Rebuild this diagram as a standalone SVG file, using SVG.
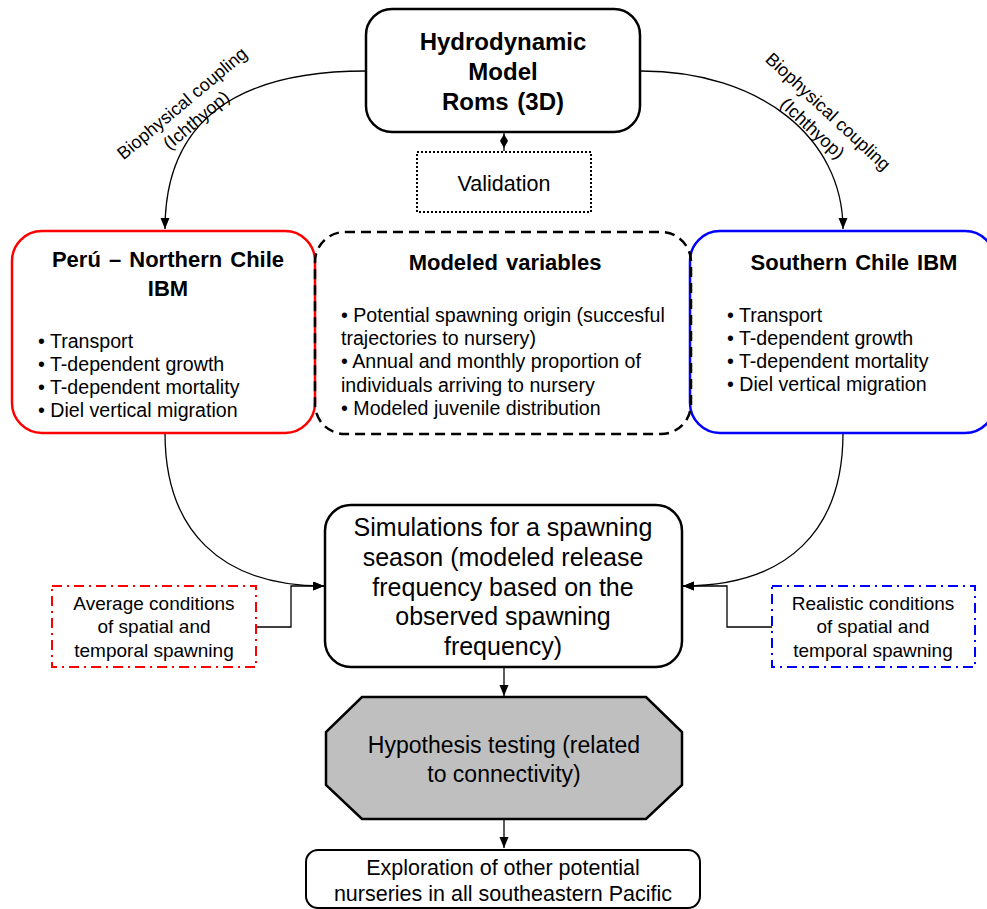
<svg xmlns="http://www.w3.org/2000/svg" width="987" height="909" viewBox="0 0 987 909">
<defs>
<marker id="arr" markerUnits="userSpaceOnUse" markerWidth="12" markerHeight="10" refX="11" refY="4.5" orient="auto">
<path d="M0,0 L11,4.5 L0,9 z" fill="#000"/>
</marker>
<style>
text{font-family:"Liberation Sans",Arial,sans-serif;fill:#000}
.t{font-weight:bold;font-size:22px;word-spacing:2px;text-anchor:middle}
.h{font-size:24px}
.b{font-size:19.6px}
.c{text-anchor:middle}
.con{fill:none;stroke:#000;stroke-width:1.3}
</style>
</defs>
<rect width="987" height="909" fill="#fff"/>

<g id="connectors">
<path class="con" d="M366,71 C235,71 165,122 165,229" marker-end="url(#arr)"/>
<path class="con" d="M641,71 C760,71 843,138 843,229" marker-end="url(#arr)"/>
<path class="con" d="M165,433 C165,530 220,586 324,586" marker-end="url(#arr)"/>
<path class="con" d="M843,433 C843,530 788,586 683,586" marker-end="url(#arr)"/>
<polyline class="con" points="256,627 291,627 291,586 324,586" marker-end="url(#arr)"/>
<polyline class="con" points="772,627 727,627 727,586 683,586" marker-end="url(#arr)"/>
<line class="con" x1="504" y1="132" x2="504" y2="151"/>
<polygon points="504,134 508,141 504,148 500,141" fill="#000"/>
<line class="con" x1="504" y1="667" x2="504" y2="696" marker-end="url(#arr)"/>
<line class="con" x1="504" y1="819" x2="504" y2="848" marker-end="url(#arr)"/>
<g font-size="18">
<text class="c" transform="translate(186,108) rotate(-40)">Biophysical coupling<tspan x="0" y="22">(Ichthyop)</tspan></text>
<text class="c" transform="translate(824,116) rotate(43)">Biophysical coupling<tspan x="0" y="23">(Ichthyop)</tspan></text>
</g>
</g>

<g id="hydro">
<rect x="366" y="9" width="274" height="123" rx="26" fill="#fff" stroke="#000" stroke-width="2.5"/>
<text class="t h" x="503" y="50">Hydrodynamic</text>
<text class="t h" x="503" y="80">Model</text>
<text class="t h" x="503" y="110">Roms (3D)</text>
</g>

<g id="validation">
<rect x="417" y="152" width="174" height="60" fill="#fff" stroke="#000" stroke-width="2" stroke-dasharray="2,2"/>
<text class="c" x="504" y="191" font-size="21.5">Validation</text>
</g>

<g id="peru">
<rect x="12" y="231" width="303" height="202" rx="30" fill="#fff" stroke="#f00" stroke-width="2.5"/>
<text class="t" x="168" y="267">Perú – Northern Chile</text>
<text class="t" x="168" y="296">IBM</text>
<text class="b" x="38" y="348">• Transport</text>
<text class="b" x="38" y="371">• T-dependent growth</text>
<text class="b" x="38" y="394">• T-dependent mortality</text>
<text class="b" x="38" y="417">• Diel vertical migration</text>
</g>

<g id="southern">
<rect x="690" y="231" width="305" height="202" rx="30" fill="#fff" stroke="#00f" stroke-width="2.5"/>
<text class="t" x="854" y="270">Southern Chile IBM</text>
<text class="b" x="727" y="322">• Transport</text>
<text class="b" x="727" y="345">• T-dependent growth</text>
<text class="b" x="727" y="368">• T-dependent mortality</text>
<text class="b" x="727" y="391">• Diel vertical migration</text>
</g>

<g id="modeled">
<rect x="315" y="232" width="376" height="202" rx="30" fill="none" stroke="#000" stroke-width="2.5" stroke-dasharray="10,6"/>
<text class="t" x="505" y="270">Modeled variables</text>
<text class="b" x="341" y="322">• Potential spawning origin (succesful</text>
<text class="b" x="341" y="345">trajectories to nursery)</text>
<text class="b" x="341" y="368">• Annual and monthly proportion of</text>
<text class="b" x="341" y="392">individuals arriving to nursery</text>
<text class="b" x="341" y="415">• Modeled juvenile distribution</text>
</g>

<g id="simulations">
<rect x="325" y="505" width="357" height="162" rx="26" fill="#fff" stroke="#000" stroke-width="2.5"/>
<g font-size="25">
<text class="c" x="503" y="536">Simulations for a spawning</text>
<text class="c" x="503" y="566">season (modeled release</text>
<text class="c" x="503" y="596">frequency based on the</text>
<text class="c" x="503" y="625">observed spawning</text>
<text class="c" x="503" y="655">frequency)</text>
</g>
</g>

<g id="average">
<rect x="52" y="586" width="204" height="81" fill="#fff" stroke="#f00" stroke-width="2" stroke-dasharray="10,5,2,5"/>
<g font-size="19">
<text class="c" x="154" y="610">Average conditions</text>
<text class="c" x="154" y="633">of spatial and</text>
<text class="c" x="154" y="657">temporal spawning</text>
</g>
</g>

<g id="realistic">
<rect x="772" y="586" width="203" height="81" fill="#fff" stroke="#00f" stroke-width="2" stroke-dasharray="10,5,2,5"/>
<g font-size="19">
<text class="c" x="873" y="610">Realistic conditions</text>
<text class="c" x="873" y="633">of spatial and</text>
<text class="c" x="873" y="657">temporal spawning</text>
</g>
</g>

<g id="hypothesis">
<polygon points="362,697 646,697 682,732 682,785 646,819 362,819 326,785 326,732" fill="#bfbfbf" stroke="#000" stroke-width="2.5"/>
<text class="c" x="504" y="753" font-size="23">Hypothesis testing (related</text>
<text class="c" x="504" y="782" font-size="23">to connectivity)</text>
</g>

<g id="exploration">
<rect x="306" y="850" width="394" height="58" rx="12" fill="#fff" stroke="#000" stroke-width="2"/>
<text class="c" x="503" y="875" font-size="21.5">Exploration of other potential</text>
<text class="c" x="503" y="901" font-size="21.5">nurseries in all southeastern Pacific</text>
</g>
</svg>
